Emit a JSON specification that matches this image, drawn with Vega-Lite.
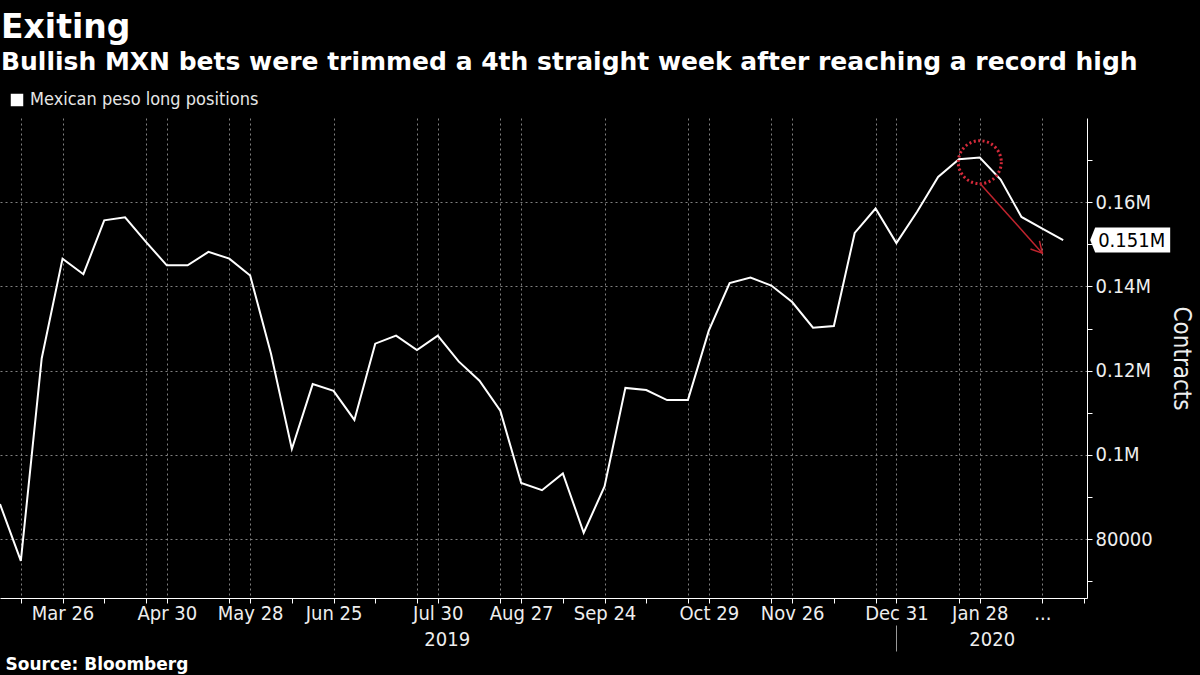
{
  "$schema": "https://vega.github.io/schema/vega-lite/v6.json",
  "width": 1087,
  "height": 480,
  "autosize": {"type": "none"},
  "padding": {"left": 0, "top": 118, "right": 113, "bottom": 77},
  "background": "#000000",
  "title": {
    "text": "Exiting",
    "subtitle": "Bullish MXN bets were trimmed a 4th straight week after reaching a record high",
    "anchor": "start",
    "frame": "group",
    "font": "DejaVu Sans",
    "fontWeight": "bold",
    "fontSize": 33,
    "color": "#ffffff",
    "subtitleFont": "DejaVu Sans",
    "subtitleFontWeight": "bold",
    "subtitleFontSize": 25,
    "subtitleColor": "#ffffff",
    "subtitlePadding": 5,
    "offset": 16,
    "dx": 1
  },
  "config": {
    "view": {"stroke": null},
    "axis": {"labelFont": "DejaVu Sans Condensed", "titleFont": "DejaVu Sans Condensed"},
    "legend": {"labelFont": "DejaVu Sans Condensed"}
  },
  "data": {
    "values": [
      {"date": "2019-03-05T00:00", "Mexican peso long positions": 88300},
      {"date": "2019-03-12T00:00", "Mexican peso long positions": 74800},
      {"date": "2019-03-19T00:00", "Mexican peso long positions": 122900},
      {"date": "2019-03-26T00:00", "Mexican peso long positions": 146600},
      {"date": "2019-04-02T00:00", "Mexican peso long positions": 142900},
      {"date": "2019-04-09T00:00", "Mexican peso long positions": 155700},
      {"date": "2019-04-16T00:00", "Mexican peso long positions": 156400},
      {"date": "2019-04-23T00:00", "Mexican peso long positions": 150600},
      {"date": "2019-04-30T00:00", "Mexican peso long positions": 145000},
      {"date": "2019-05-07T00:00", "Mexican peso long positions": 145000},
      {"date": "2019-05-14T00:00", "Mexican peso long positions": 148200},
      {"date": "2019-05-21T00:00", "Mexican peso long positions": 146600},
      {"date": "2019-05-28T00:00", "Mexican peso long positions": 142600},
      {"date": "2019-06-04T00:00", "Mexican peso long positions": 124000},
      {"date": "2019-06-11T00:00", "Mexican peso long positions": 101400},
      {"date": "2019-06-18T00:00", "Mexican peso long positions": 116800},
      {"date": "2019-06-25T00:00", "Mexican peso long positions": 115200},
      {"date": "2019-07-02T00:00", "Mexican peso long positions": 108300},
      {"date": "2019-07-09T00:00", "Mexican peso long positions": 126400},
      {"date": "2019-07-16T00:00", "Mexican peso long positions": 128300},
      {"date": "2019-07-23T00:00", "Mexican peso long positions": 124900},
      {"date": "2019-07-30T00:00", "Mexican peso long positions": 128300},
      {"date": "2019-08-06T00:00", "Mexican peso long positions": 122200},
      {"date": "2019-08-13T00:00", "Mexican peso long positions": 117600},
      {"date": "2019-08-20T00:00", "Mexican peso long positions": 110500},
      {"date": "2019-08-27T00:00", "Mexican peso long positions": 93300},
      {"date": "2019-09-03T00:00", "Mexican peso long positions": 91600},
      {"date": "2019-09-10T00:00", "Mexican peso long positions": 95600},
      {"date": "2019-09-17T00:00", "Mexican peso long positions": 81500},
      {"date": "2019-09-24T00:00", "Mexican peso long positions": 92500},
      {"date": "2019-10-01T00:00", "Mexican peso long positions": 115900},
      {"date": "2019-10-08T00:00", "Mexican peso long positions": 115400},
      {"date": "2019-10-15T00:00", "Mexican peso long positions": 113000},
      {"date": "2019-10-22T00:00", "Mexican peso long positions": 113000},
      {"date": "2019-10-29T00:00", "Mexican peso long positions": 129500},
      {"date": "2019-11-05T00:00", "Mexican peso long positions": 140800},
      {"date": "2019-11-12T00:00", "Mexican peso long positions": 142100},
      {"date": "2019-11-19T00:00", "Mexican peso long positions": 140200},
      {"date": "2019-11-26T00:00", "Mexican peso long positions": 136300},
      {"date": "2019-12-03T00:00", "Mexican peso long positions": 130200},
      {"date": "2019-12-10T00:00", "Mexican peso long positions": 130600},
      {"date": "2019-12-17T00:00", "Mexican peso long positions": 152700},
      {"date": "2019-12-24T00:00", "Mexican peso long positions": 158500},
      {"date": "2019-12-31T00:00", "Mexican peso long positions": 150300},
      {"date": "2020-01-07T00:00", "Mexican peso long positions": 157800},
      {"date": "2020-01-14T00:00", "Mexican peso long positions": 166000},
      {"date": "2020-01-21T00:00", "Mexican peso long positions": 170200},
      {"date": "2020-01-28T00:00", "Mexican peso long positions": 170600},
      {"date": "2020-02-04T00:00", "Mexican peso long positions": 165400},
      {"date": "2020-02-11T00:00", "Mexican peso long positions": 156500},
      {"date": "2020-02-18T00:00", "Mexican peso long positions": 153700},
      {"date": "2020-02-25T00:00", "Mexican peso long positions": 151000}
    ],
    "format": {"parse": {"date": "date"}}
  },
  "resolve": {"axis": {"x": "independent"}},
  "layer": [
    {
      "transform": [{"fold": ["Mexican peso long positions"], "as": ["series", "contracts"]}],
      "mark": {"type": "line", "strokeWidth": 2},
      "encoding": {
        "x": {
          "field": "date",
          "type": "temporal",
          "scale": {"domain": [{"year": 2019, "month": 3, "date": 5}, {"year": 2020, "month": 3, "date": 4}]},
          "axis": {
            "values": [
              {"year": 2019, "month": 3, "date": 12},
              {"year": 2019, "month": 3, "date": 26},
              {"year": 2019, "month": 4, "date": 9},
              {"year": 2019, "month": 4, "date": 23},
              {"year": 2019, "month": 4, "date": 30},
              {"year": 2019, "month": 5, "date": 21},
              {"year": 2019, "month": 5, "date": 28},
              {"year": 2019, "month": 6, "date": 11},
              {"year": 2019, "month": 6, "date": 25},
              {"year": 2019, "month": 7, "date": 9},
              {"year": 2019, "month": 7, "date": 23},
              {"year": 2019, "month": 7, "date": 30},
              {"year": 2019, "month": 8, "date": 20},
              {"year": 2019, "month": 8, "date": 27},
              {"year": 2019, "month": 9, "date": 10},
              {"year": 2019, "month": 9, "date": 24},
              {"year": 2019, "month": 10, "date": 8},
              {"year": 2019, "month": 10, "date": 22},
              {"year": 2019, "month": 10, "date": 29},
              {"year": 2019, "month": 11, "date": 19},
              {"year": 2019, "month": 11, "date": 26},
              {"year": 2019, "month": 12, "date": 10},
              {"year": 2019, "month": 12, "date": 24},
              {"year": 2019, "month": 12, "date": 31},
              {"year": 2020, "month": 1, "date": 21},
              {"year": 2020, "month": 1, "date": 28},
              {"year": 2020, "month": 2, "date": 18},
              {"year": 2020, "month": 3, "date": 3}
            ],
            "labelExpr": "indexof(['03-26','04-30','05-28','06-25','07-30','08-27','09-24','10-29','11-26','12-31','01-28'], timeFormat(datum.value,'%m-%d')) >= 0 ? timeFormat(datum.value,'%b %d') : (timeFormat(datum.value,'%m-%d') == '02-18' ? '...' : '')",
            "labelOverlap": false,
            "labelFlush": false,
            "labelFontSize": 20,
            "labelColor": "#eeeeee",
            "labelPadding": 0,
            "tickSize": 5,
            "tickColor": "#ffffff",
            "domainColor": "#ffffff",
            "grid": true,
            "gridColor": "#808080",
            "gridDash": [2, 3],
            "gridOpacity": {"condition": {"test": "indexof(['04-09','06-11','07-09','09-10','10-08','12-10','03-03'], timeFormat(datum.value,'%m-%d')) < 0", "value": 1}, "value": 0},
            "title": "Source: Bloomberg",
            "titleX": 5,
            "titleY": 66,
            "titleAlign": "left",
            "titleAnchor": "start",
            "titleBaseline": "middle",
            "titleFont": "DejaVu Sans",
            "titleFontWeight": "bold",
            "titleFontSize": 17,
            "titleColor": "#ffffff"
          }
        },
        "y": {
          "field": "contracts",
          "type": "quantitative",
          "title": "Contracts",
          "scale": {"domain": [66000, 180000], "nice": false, "zero": false},
          "axis": {
            "orient": "right",
            "values": [70000, 80000, 90000, 100000, 110000, 120000, 130000, 140000, 150000, 160000, 170000],
            "labelExpr": "datum.value % 20000 == 0 ? (datum.value >= 100000 ? format(datum.value / 1000000, '.2~f') + 'M' : format(datum.value, 'd')) : ''",
            "labelFontSize": 20,
            "labelColor": "#eeeeee",
            "labelPadding": 3,
            "tickSize": 5,
            "tickColor": "#ffffff",
            "domainColor": "#ffffff",
            "grid": true,
            "gridColor": "#808080",
            "gridDash": [2, 3],
            "gridOpacity": {"condition": {"test": "datum.value % 20000 == 0", "value": 1}, "value": 0},
            "titleFontSize": 24,
            "titleFontWeight": "normal",
            "titleColor": "#eeeeee",
            "titlePadding": 16
          }
        },
        "color": {
          "field": "series",
          "type": "nominal",
          "scale": {"range": ["#ffffff"]},
          "legend": {
            "orient": "none",
            "legendX": 8,
            "legendY": -27,
            "title": null,
            "padding": 0,
            "symbolType": "square",
            "symbolSize": 156,
            "symbolFillColor": "#ffffff",
            "symbolStrokeWidth": 0,
            "labelFontSize": 18,
            "labelLimit": 0,
            "labelColor": "#e6e6e6",
            "labelOffset": 4,
            "encode": {"symbols": {"update": {"fill": {"value": "#ffffff"}, "stroke": {"value": "#ffffff"}, "strokeWidth": {"value": 0}}}}
          }
        }
      }
    },
    {
      "data": {"values": [{"date": "2020-01-28T00:00", "contracts": 169500}]},
      "mark": {"type": "point", "shape": "circle", "size": 1849, "filled": false, "stroke": "#d42a3a", "strokeWidth": 3, "strokeDash": [2, 2.5], "opacity": 1},
      "encoding": {
        "x": {
          "field": "date",
          "type": "temporal",
          "axis": {
            "orient": "bottom",
            "offset": 27,
            "domain": false,
            "grid": false,
            "values": [{"year": 2019, "month": 8, "date": 2}, {"year": 2019, "month": 12, "date": 31}, {"year": 2020, "month": 2, "date": 1}],
            "labelExpr": "month(datum.value) == 7 ? '2019' : (month(datum.value) == 1 ? '2020' : '')",
            "labelOverlap": false,
            "labelFlush": false,
            "labelFontSize": 20,
            "labelColor": "#eeeeee",
            "labelPadding": -22,
            "tickSize": 26,
            "tickColor": "#999999",
            "tickOpacity": {"condition": {"test": "month(datum.value) == 11", "value": 1}, "value": 0},
            "title": null
          }
        },
        "y": {"field": "contracts", "type": "quantitative", "title": "Contracts"}
      }
    },
    {
      "data": {"values": [{"x1": "2020-01-28T00:00", "y1": 164500, "x2": "2020-02-18T00:00", "y2": 147900}]},
      "mark": {"type": "rule", "color": "#c0242e", "strokeWidth": 1.5},
      "encoding": {
        "x": {"field": "x1", "type": "temporal", "axis": null},
        "x2": {"field": "x2"},
        "y": {"field": "y1", "type": "quantitative", "title": "Contracts"},
        "y2": {"field": "y2"}
      }
    },
    {
      "data": {"values": [{"x2": "2020-02-18T00:00", "y2": 147900}]},
      "mark": {"type": "point", "shape": "M -1 -0.55 L 0 0 L -1 0.55", "size": 484, "angle": 48, "filled": false, "stroke": "#c0242e", "strokeWidth": 1.5, "opacity": 1},
      "encoding": {
        "x": {"field": "x2", "type": "temporal", "axis": null},
        "y": {"field": "y2", "type": "quantitative", "title": "Contracts"}
      }
    },
    {
      "transform": [
        {"fold": ["Mexican peso long positions"], "as": ["series", "contracts"]},
        {"filter": "timeFormat(datum.date, '%Y-%m-%d') == '2020-02-25'"}
      ],
      "mark": {"type": "point", "shape": "M 2.7 0 L 3.2 -1.25 L 10.7 -1.25 L 10.7 1.25 L 3.2 1.25 Z", "size": 400, "filled": true, "fill": "#ffffff", "strokeWidth": 0, "opacity": 1},
      "encoding": {
        "x": {"field": "date", "type": "temporal", "axis": null},
        "y": {"field": "contracts", "type": "quantitative", "title": "Contracts"}
      }
    },
    {
      "transform": [
        {"fold": ["Mexican peso long positions"], "as": ["series", "contracts"]},
        {"filter": "timeFormat(datum.date, '%Y-%m-%d') == '2020-02-25'"},
        {"calculate": "format(datum.contracts / 1000000, '.3f') + 'M'", "as": "label"}
      ],
      "mark": {"type": "text", "align": "left", "baseline": "middle", "dx": 35, "dy": 1, "font": "DejaVu Sans Condensed", "fontSize": 20, "color": "#000000"},
      "encoding": {
        "x": {"field": "date", "type": "temporal", "axis": null},
        "y": {"field": "contracts", "type": "quantitative", "title": "Contracts"},
        "text": {"field": "label"}
      }
    }
  ]
}
